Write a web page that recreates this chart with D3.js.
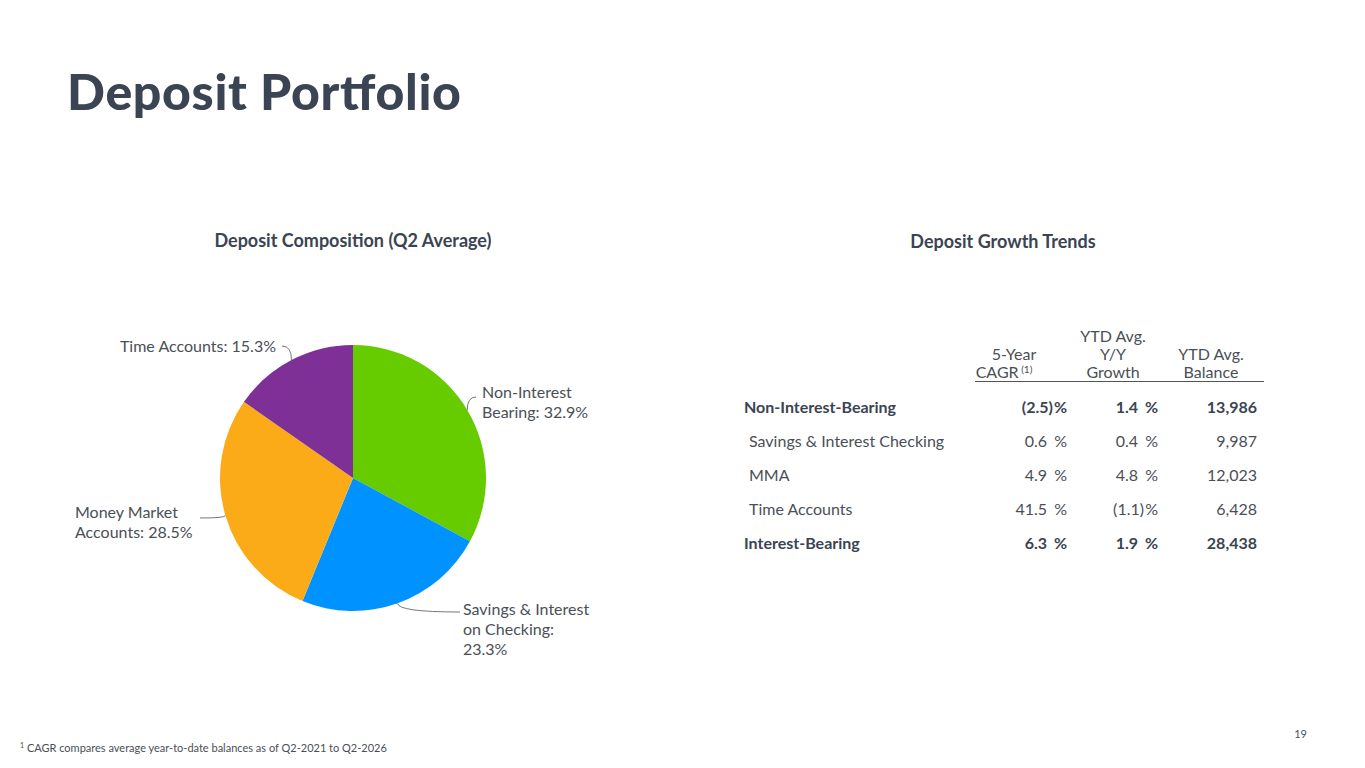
<!DOCTYPE html>
<html><head><meta charset="utf-8">
<script src="https://cdn.jsdelivr.net/npm/d3@7"></script>
<style>body{margin:0;background:#fff;font-family:Lato,"Open Sans",sans-serif;}</style>
</head><body>
<svg id="c" width="1365" height="768"></svg>
<script>
var sliceNames = ['Non-Interest Bearing', 'Savings & Interest on Checking', 'Money Market Accounts', 'Time Accounts'];
var sliceValues = [32.9, 23.3, 28.5, 15.3];
var sliceColors = ['#66cc00', '#0093ff', '#fbab18', '#7f3096'];
var sliceLabels = [['Non-Interest', 'Bearing: 32.9%'], ['Savings & Interest', 'on Checking:', '23.3%'], ['Money Market', 'Accounts: 28.5%'], ['Time Accounts: 15.3%']];

var rowNames = ['Non-Interest-Bearing', 'Savings & Interest Checking', 'MMA', 'Time Accounts', 'Interest-Bearing'];
var rowBold = [true, false, false, false, true];
var cagr = ['(2.5)', '0.6', '4.9', '41.5', '6.3'];
var yoy = ['1.4', '0.4', '4.8', '(1.1)', '1.9'];
var balance = ['13,986', '9,987', '12,023', '6,428', '28,438'];

var svg = d3.select('#c');
var dark = '#3b4452', txt = '#4a4f57';

svg.append('text').attr('x', 67).attr('y', 110).attr('font-size', 50).attr('font-weight', 900)
  .attr('fill', dark).attr('textLength', 394).text('Deposit Portfolio');

svg.append('text').attr('x', 353).attr('y', 247).attr('text-anchor', 'middle').attr('font-size', 18)
  .attr('font-weight', 700).attr('fill', dark).text('Deposit Composition (Q2 Average)');
svg.append('text').attr('x', 1003).attr('y', 248).attr('text-anchor', 'middle').attr('font-size', 18)
  .attr('font-weight', 700).attr('fill', dark).text('Deposit Growth Trends');

// pie
var cx = 353, cy = 478, r = 133;
var pie = d3.pie().sort(null)(sliceValues);
var arc = d3.arc().innerRadius(0).outerRadius(r);
var g = svg.append('g').attr('transform', 'translate(' + cx + ',' + cy + ')');
g.selectAll('path').data(pie).enter().append('path')
  .attr('d', arc).attr('fill', function (d, i) { return sliceColors[i]; });

// label positions and leader lines
var labelPos = [{x: 482, y: 398, a: 'start', lx: 476, ly: 397}, {x: 463, y: 615, a: 'start', lx: 460, ly: 612},
  {x: 75, y: 518, a: 'start', lx: 200, ly: 518}, {x: 276, y: 352, a: 'end', lx: 282, ly: 346}];
pie.forEach(function (d, i) {
  var p = labelPos[i];
  var c = d3.arc().innerRadius(r).outerRadius(r).centroid(d);
  var ex = cx + c[0], ey = cy + c[1];
  svg.append('path').attr('fill', 'none').attr('stroke', '#777').attr('stroke-width', 1)
    .attr('d', 'M' + p.lx + ',' + p.ly + ' Q' + ex + ',' + p.ly + ' ' + ex + ',' + ey);
  var t = svg.append('text').attr('x', p.x).attr('y', p.y).attr('font-size', 16).attr('fill', txt).attr('text-anchor', p.a);
  sliceLabels[i].forEach(function (s, k) {
    t.append('tspan').attr('x', p.x).attr('dy', k ? 20 : 0).text(s);
  });
});

// table
var cols = [1067, 1158, 1257];
var hdr = [['5-Year', 'CAGR'], ['YTD Avg.', 'Y/Y', 'Growth'], ['YTD Avg.', 'Balance']];
var hx = [1014, 1113, 1211];
hdr.forEach(function (h, i) {
  h.forEach(function (s, k) {
    var y = 378 - (h.length - 1 - k) * 18;
    var t = svg.append('text').attr('x', hx[i]).attr('y', y).attr('text-anchor', 'middle')
      .attr('font-size', 16).attr('fill', txt).text(s);
    if (i === 0 && k === 1) t.attr('x', hx[i] - 10).append('tspan').attr('font-size', 10).attr('dy', -5).text(' (1)');
  });
});
svg.append('line').attr('x1', 975).attr('x2', 1264).attr('y1', 381.5).attr('y2', 381.5).attr('stroke', '#555');

var y = d3.scaleBand().domain(rowNames).range([390, 560]);
rowNames.forEach(function (n, i) {
  var yy = y(n) + y.bandwidth() / 2 + 6;
  var w = rowBold[i] ? 700 : 400, col = rowBold[i] ? dark : txt;
  svg.append('text').attr('x', rowBold[i] ? 744 : 749).attr('y', yy).attr('font-size', 16)
    .attr('font-weight', w).attr('fill', col).text(n);
  [cagr, yoy].forEach(function (arr, j) {
    var v = arr[i], neg = v.indexOf(')') >= 0;
    svg.append('text').attr('x', cols[j] - (neg ? 14 : 20)).attr('y', yy).attr('text-anchor', 'end')
      .attr('font-size', 16).attr('font-weight', w).attr('fill', col).text(v);
    svg.append('text').attr('x', cols[j]).attr('y', yy).attr('text-anchor', 'end')
      .attr('font-size', 16).attr('font-weight', w).attr('fill', col).text('%');
  });
  svg.append('text').attr('x', cols[2]).attr('y', yy).attr('text-anchor', 'end').attr('font-size', 16)
    .attr('font-weight', w).attr('fill', col).text(balance[i]);
});

svg.append('text').attr('x', 1307).attr('y', 738).attr('text-anchor', 'end').attr('font-size', 11).attr('fill', txt).text('19');
var f = svg.append('text').attr('x', 20).attr('y', 752).attr('font-size', 11).attr('fill', txt);
f.append('tspan').attr('font-size', 7).attr('dy', -4).text('1');
f.append('tspan').attr('dy', 4).text(' CAGR compares average year-to-date balances as of Q2-2021 to Q2-2026');
</script>
</body></html>
